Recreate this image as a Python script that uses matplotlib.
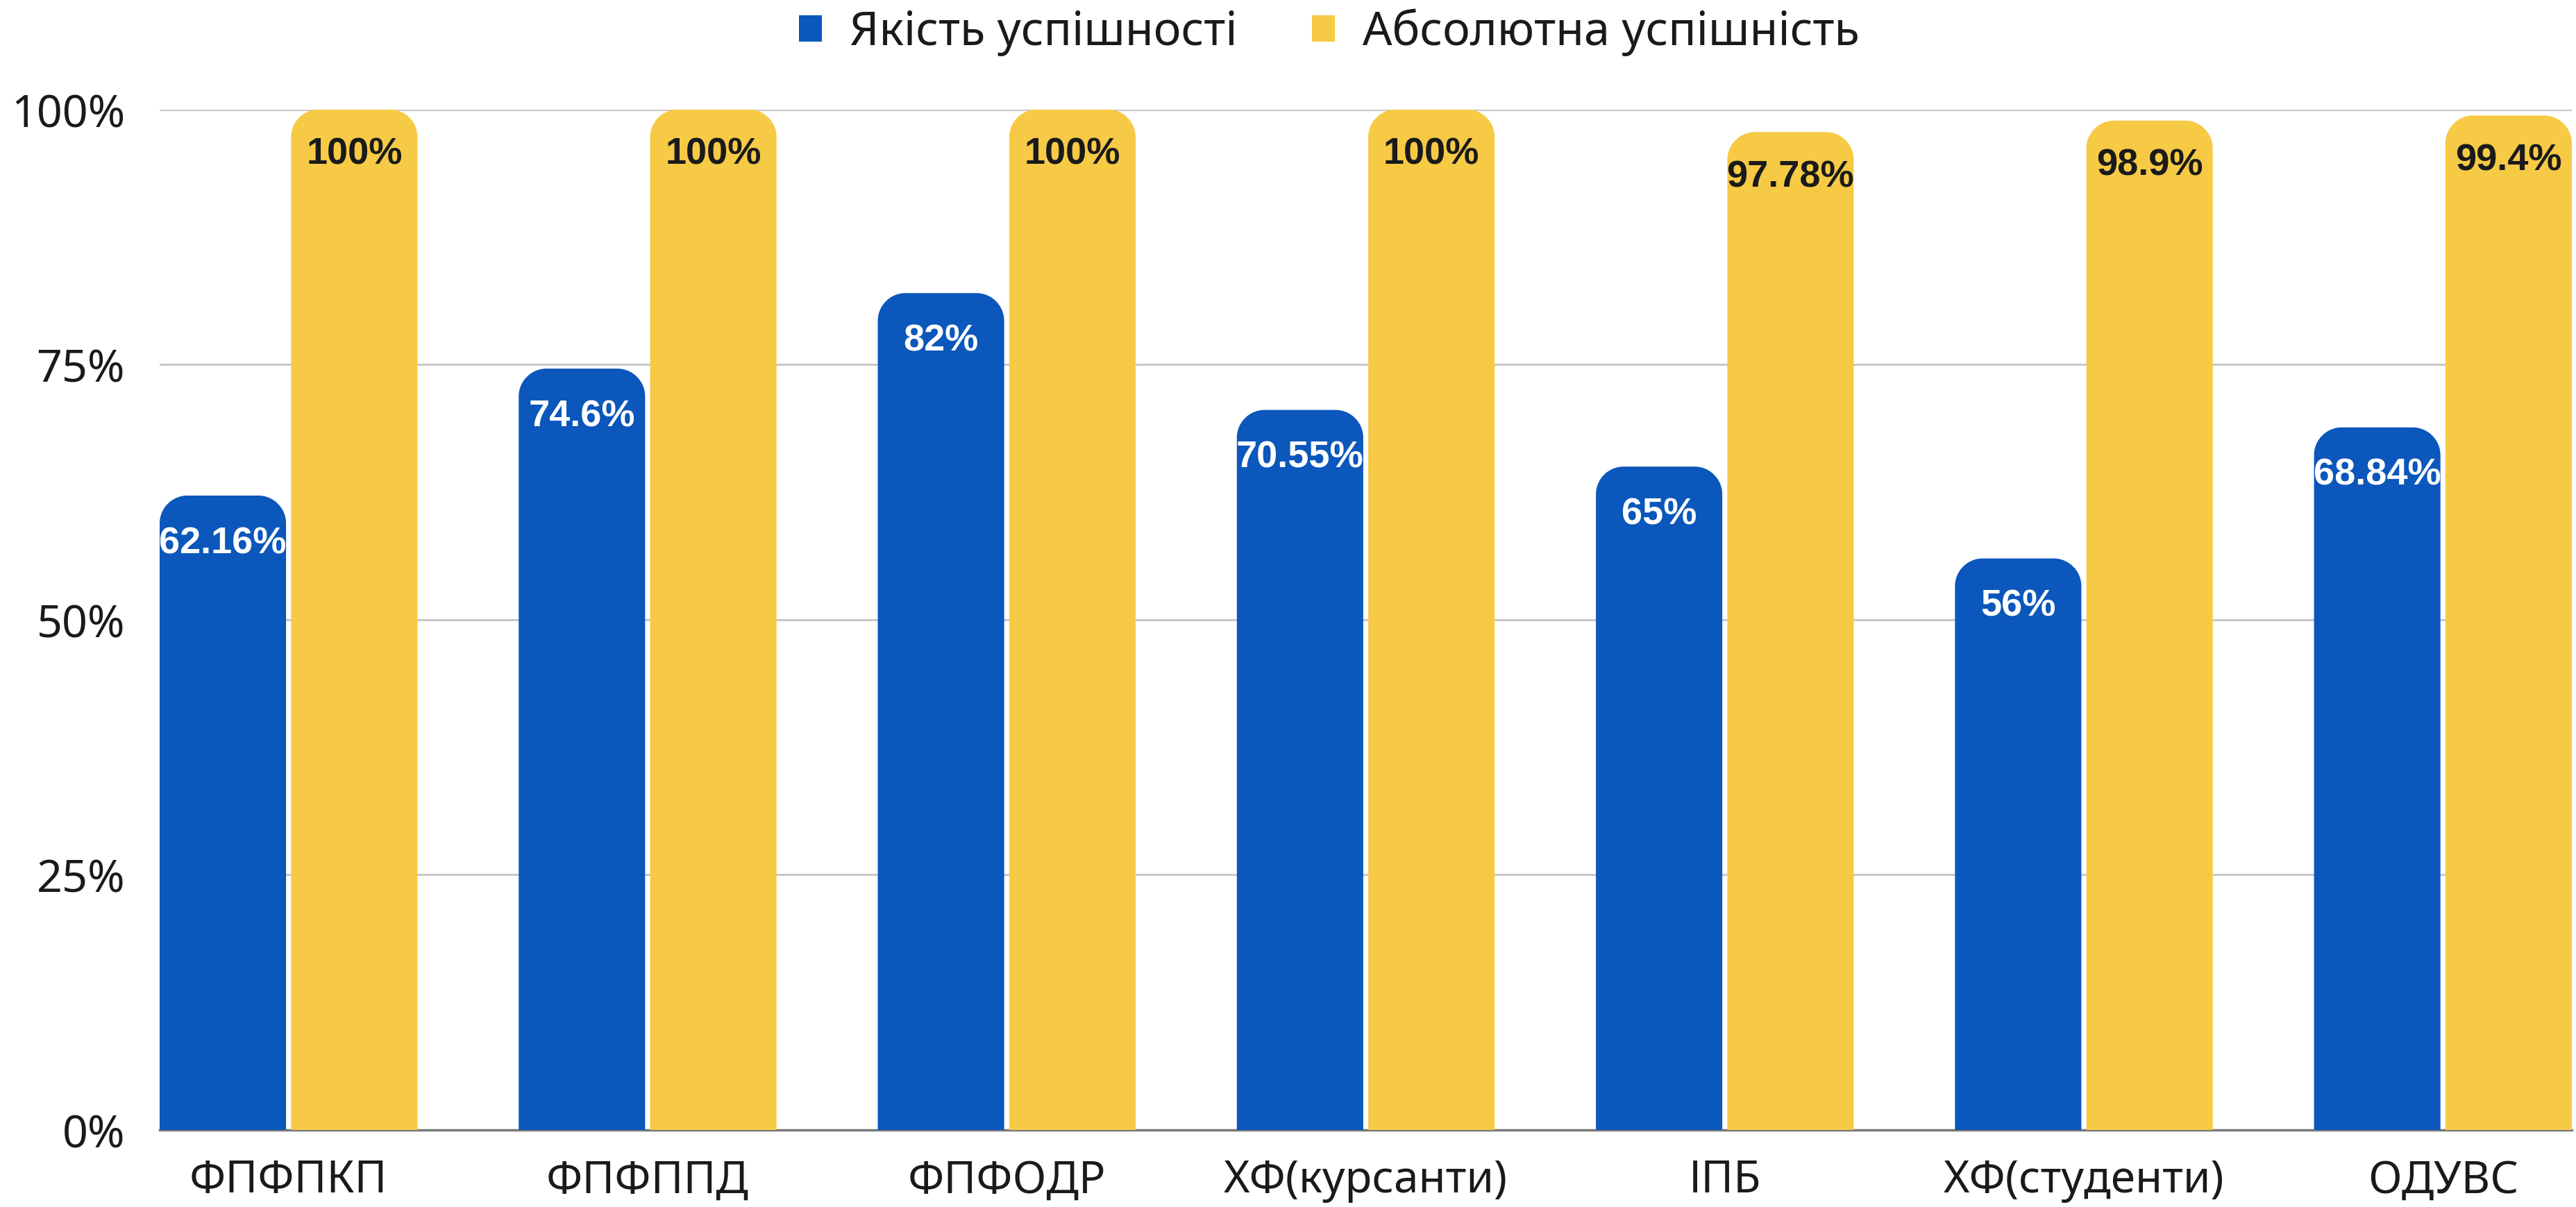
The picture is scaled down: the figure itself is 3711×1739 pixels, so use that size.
import matplotlib
matplotlib.use("Agg")
import matplotlib.pyplot as plt
from matplotlib.path import Path
from matplotlib.patches import PathPatch, Patch
import numpy as np

categories = ["ФПФПКП", "ФПФППД", "ФПФОДР", "ХФ(курсанти)", "ІПБ", "ХФ(студенти)", "ОДУВС"]
quality = [62.16, 74.6, 82, 70.55, 65, 56, 68.84]
absolute = [100, 100, 100, 100, 97.78, 98.9, 99.4]
quality_labels = ["62.16%", "74.6%", "82%", "70.55%", "65%", "56%", "68.84%"]
absolute_labels = ["100%", "100%", "100%", "100%", "97.78%", "98.9%", "99.4%"]
series_names = ["Якість успішності", "Абсолютна успішність"]
yticks = [0, 25, 50, 75, 100]
ytick_labels = ["0%", "25%", "50%", "75%", "100%"]

BLUE = "#0B57BB"
YELLOW = "#F6CA45"

W, H, DPI = 3711, 1740, 100
fig = plt.figure(figsize=(W / DPI, H / DPI), dpi=DPI)
ax_left, ax_bottom = 230 / W, 1 - 1629 / H
ax_w, ax_h = (3705 - 230) / W, (1629 - 158.6) / H
ax = fig.add_axes([ax_left, ax_bottom, ax_w, ax_h])

bw = 0.352
gap = 0.014
x = np.arange(len(categories))
xlim = (-(bw + gap / 2), len(categories) - 1 + bw + gap / 2)
ax.set_xlim(*xlim)
ax.set_ylim(0, 100)

bars_q = ax.bar(x - (bw + gap) / 2, quality, bw, color=BLUE, visible=False)
bars_a = ax.bar(x + (bw + gap) / 2, absolute, bw, color=YELLOW, visible=False)

px_per_x = ax_w * W / (xlim[1] - xlim[0])
px_per_y = ax_h * H / 100
r_px = 40
rx, ry = r_px / px_per_x, r_px / px_per_y
k = 0.5523

def rounded(rect, color):
    x0 = rect.get_x()
    x1 = x0 + rect.get_width()
    h = rect.get_height()
    verts = [(x0, 0), (x0, h - ry),
             (x0, h - ry + k * ry), (x0 + rx - k * rx, h), (x0 + rx, h),
             (x1 - rx, h),
             (x1 - rx + k * rx, h), (x1, h - ry + k * ry), (x1, h - ry),
             (x1, 0), (x0, 0)]
    codes = [Path.MOVETO, Path.LINETO,
             Path.CURVE4, Path.CURVE4, Path.CURVE4,
             Path.LINETO,
             Path.CURVE4, Path.CURVE4, Path.CURVE4,
             Path.LINETO, Path.CLOSEPOLY]
    ax.add_patch(PathPatch(Path(verts, codes), facecolor=color, edgecolor="none", zorder=3))

for r in bars_q:
    rounded(r, BLUE)
for r in bars_a:
    rounded(r, YELLOW)

lab_font = dict(family="Liberation Sans", fontweight="bold", fontsize=39)
for r, t in zip(bars_q, quality_labels):
    ax.annotate(t, (r.get_x() + r.get_width() / 2, r.get_height()), xytext=(0, -49),
                textcoords="offset points", ha="center", va="center", color="white", zorder=5, **lab_font)
for r, t in zip(bars_a, absolute_labels):
    ax.annotate(t, (r.get_x() + r.get_width() / 2, r.get_height()), xytext=(0, -46),
                textcoords="offset points", ha="center", va="center", color="#1a1a1a", zorder=5, **lab_font)

ax.set_yticks(yticks)
ax.set_yticklabels(ytick_labels)
ax.set_xticks(x)
ax.set_xticklabels(categories)
for lbl in ax.get_yticklabels():
    lbl.set_family("Noto Sans")
    lbl.set_fontsize(46.5)
    lbl.set_color("#1a1a1a")
for lbl in ax.get_xticklabels():
    lbl.set_family("Noto Sans")
    lbl.set_fontsize(46)
    lbl.set_color("#1a1a1a")
ax.tick_params(axis="both", length=0)
ax.tick_params(axis="y", pad=36)
ax.tick_params(axis="x", pad=29)

ax.grid(axis="y", color="#c8c8c8", linewidth=2.2, zorder=0)
ax.set_axisbelow(True)
for s in ["top", "right", "left"]:
    ax.spines[s].set_visible(False)
ax.spines["bottom"].set_color("#777777")
ax.spines["bottom"].set_linewidth(2.5)
ax.spines["bottom"].set_zorder(2)

handles = [Patch(facecolor=BLUE, edgecolor="none"), Patch(facecolor=YELLOW, edgecolor="none")]
leg = fig.legend(handles, series_names, loc="center", bbox_to_anchor=(1915 / W, 1 - 47 / H),
                 ncol=2, frameon=False, prop=dict(family="Noto Sans", size=48),
                 handlelength=0.5, handleheight=0.5, handletextpad=0.6, columnspacing=1.6)
for t in leg.get_texts():
    t.set_color("#1a1a1a")

fig.savefig("out.png", dpi=DPI, facecolor="white")
